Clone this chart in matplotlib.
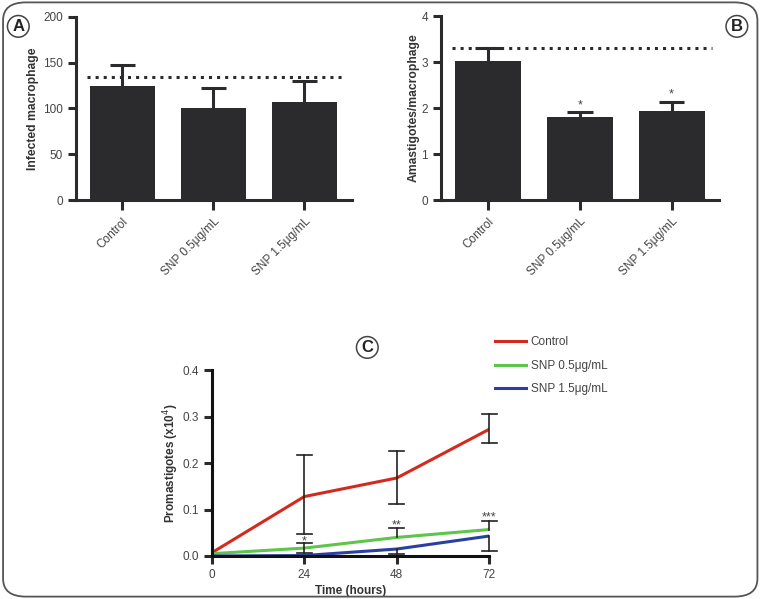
import numpy as np
import matplotlib
matplotlib.use("Agg")
import matplotlib.pyplot as plt
from matplotlib.patches import FancyBboxPatch

plt.rcParams['font.family'] = ['Liberation Sans', 'DejaVu Sans']

groups = ["Control", "SNP 0.5\u03bcg/mL", "SNP 1.5\u03bcg/mL"]

# panel A
infected = [125, 100, 107]
infected_err = [22, 22, 23]
infected_ref = 134

# panel B
amast = [3.03, 1.80, 1.93]
amast_err = [0.28, 0.11, 0.21]
amast_ref = 3.30
amast_sig = ["", "*", "*"]

# panel C
hours = [0, 24, 48, 72]
ctrl = [0.007, 0.128, 0.168, 0.273]
ctrl_lo = [0.007, 0.047, 0.111, 0.243]
ctrl_hi = [0.007, 0.217, 0.227, 0.305]
snp05 = [0.005, 0.017, 0.040, 0.057]
snp05_lo = [0.005, 0.007, 0.040, 0.057]
snp05_hi = [0.005, 0.028, 0.060, 0.076]
snp15 = [0.0, 0.001, 0.015, 0.043]
snp15_lo = [0.0, 0.001, 0.004, 0.010]
snp15_hi = [0.0, 0.001, 0.015, 0.043]
c_sig = ["", "*", "**", "***"]
c_sig_y = [0, 0.031, 0.065, 0.082]

dark = "#2b2b2e"
tick_col = "#444444"

fig = plt.figure(figsize=(7.62, 5.99), dpi=100)

border = FancyBboxPatch((0.004, 0.004), 0.99, 0.992, boxstyle="round,pad=0,rounding_size=0.03",
                        transform=fig.transFigure, facecolor="none", edgecolor="#555555", lw=1.3)
fig.patches.append(border)


def style_axes(ax):
    for s in ["top", "right"]:
        ax.spines[s].set_visible(False)
    for s in ["left", "bottom"]:
        ax.spines[s].set_linewidth(2.2)
        ax.spines[s].set_color(dark)
    ax.tick_params(width=2.2, length=6, color=dark, labelcolor=tick_col, labelsize=8.5)


def bar_panel(rect, vals, errs, ref, ylim, yticks, ylabel, pad, sig=None):
    ax = fig.add_axes(rect)
    x = np.arange(len(vals))
    ax.bar(x, vals, width=0.72, color=dark, zorder=2)
    tops = np.array(vals) + np.array(errs)
    ax.vlines(x, vals, tops, color=dark, lw=2.2, zorder=1)
    ax.hlines(tops, x - 0.14, x + 0.14, color=dark, lw=2.2, zorder=1)
    ax.plot([-0.39, 2.44], [ref, ref], linestyle=":", color=dark, lw=2.2, zorder=3)
    if sig:
        for xi, t, s in zip(x, tops, sig):
            if s:
                ax.text(xi, t + ylim[1] * 0.005, s, ha="center", va="bottom",
                        fontsize=9, color=tick_col)
    ax.set_xlim(-0.51, 2.52)
    ax.set_ylim(*ylim)
    ax.set_yticks(yticks)
    ax.set_xticks(x)
    ax.set_xticklabels(groups, rotation=45, ha="right", rotation_mode="anchor")
    ax.set_ylabel(ylabel, fontsize=8.7, fontweight="bold", color="#333333", labelpad=pad)
    style_axes(ax)
    ax.tick_params(axis="x", length=7, pad=4)
    return ax


bar_panel([0.0997, 0.666, 0.362, 0.306], infected, infected_err, infected_ref,
          (0, 200), [0, 50, 100, 150, 200], "Infected macrophage", 3)
bar_panel([0.579, 0.666, 0.365, 0.307], amast, amast_err, amast_ref,
          (0, 4), [0, 1, 2, 3, 4], "Amastigotes/macrophage", 1, amast_sig)

# panel C
axc = fig.add_axes([0.278, 0.0718, 0.364, 0.31])
axc.plot(hours, ctrl, color="#d42a1e", lw=2.2, label="Control", zorder=2)
axc.plot(hours, snp05, color="#5dc64a", lw=2.2, label="SNP 0.5\u03bcg/mL", zorder=2)
axc.plot(hours, snp15, color="#2a40a0", lw=2.2, label="SNP 1.5\u03bcg/mL", zorder=2)
for series, lo, hi in [(ctrl, ctrl_lo, ctrl_hi), (snp05, snp05_lo, snp05_hi), (snp15, snp15_lo, snp15_hi)]:
    for h, v, a, b in zip(hours, series, lo, hi):
        if b - a > 0.001:
            axc.plot([h, h], [a, b], color="#222222", lw=1.2, zorder=3, clip_on=False)
        for yy in (a, b):
            if abs(yy - v) > 0.001:
                axc.plot([h - 1.9, h + 1.9], [yy, yy], color="#222222", lw=1.2, zorder=3,
                         clip_on=False)
for h, s, yy in zip(hours, c_sig, c_sig_y):
    if s:
        axc.text(h, yy, s, ha="center", va="center", fontsize=9, color=tick_col)
axc.set_xlim(0, 72)
axc.set_ylim(0, 0.4)
axc.set_xticks(hours)
axc.set_yticks([0.0, 0.1, 0.2, 0.3, 0.4])
axc.set_yticklabels(["0.0", "0.1", "0.2", "0.3", "0.4"])
axc.set_xlabel("Time (hours)", fontsize=8.5, fontweight="bold", color="#333333", labelpad=3)
axc.set_ylabel("Promastigotes (x10$^4$)", fontsize=8.5, fontweight="bold", color="#333333",
               labelpad=1)
style_axes(axc)
axc.spines["left"].set_color("#111111")
axc.spines["bottom"].set_color("#111111")
axc.legend(loc="upper left", bbox_to_anchor=(0.636, 0.457), bbox_transform=fig.transFigure,
           frameon=False, fontsize=8.5, handlelength=2.6, labelspacing=1.0, handletextpad=0.4,
           labelcolor=tick_col)

for lbl, x, y in [("A", 0.024, 0.956), ("B", 0.967, 0.956), ("C", 0.482, 0.42)]:
    fig.text(x, y, lbl, ha="center", va="center", fontsize=12, fontweight="bold", color="#222222",
             bbox=dict(boxstyle="circle,pad=0.2", facecolor="white", edgecolor="#444444", lw=1.1))

fig.savefig("out.png", dpi=100)
